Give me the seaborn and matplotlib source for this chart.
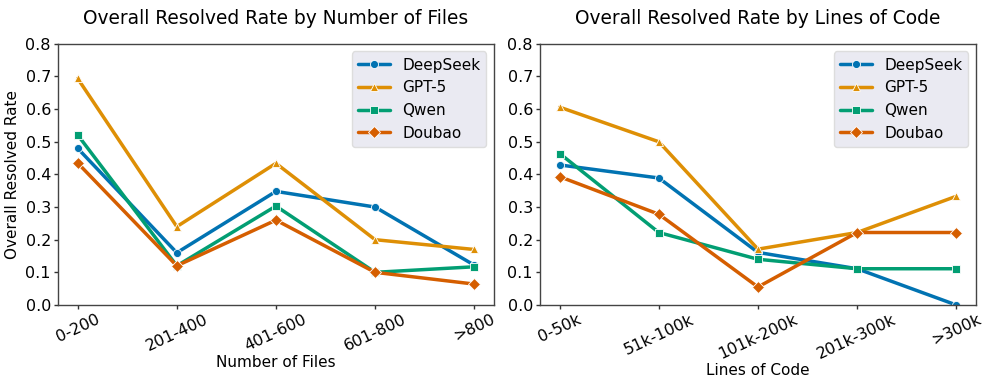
import matplotlib
matplotlib.use("Agg")
import matplotlib.pyplot as plt
import seaborn as sns
import pandas as pd

models = ["DeepSeek", "GPT-5", "Qwen", "Doubao"]

files_cats = ["0-200", "201-400", "401-600", "601-800", ">800"]
files_deepseek = [0.48, 0.16, 0.348, 0.30, 0.122]
files_gpt5 = [0.694, 0.24, 0.434, 0.20, 0.17]
files_qwen = [0.521, 0.12, 0.303, 0.10, 0.117]
files_doubao = [0.435, 0.12, 0.26, 0.10, 0.064]

loc_cats = ["0-50k", "51k-100k", "101k-200k", "201k-300k", ">300k"]
loc_deepseek = [0.429, 0.389, 0.161, 0.111, 0.0]
loc_gpt5 = [0.606, 0.50, 0.171, 0.222, 0.333]
loc_qwen = [0.464, 0.222, 0.14, 0.111, 0.111]
loc_doubao = [0.393, 0.278, 0.055, 0.222, 0.222]


def long_df(cats, series):
    rows = []
    for m, vals in zip(models, series):
        for c, v in zip(cats, vals):
            rows.append({"cat": c, "Model": m, "rate": v})
    return pd.DataFrame(rows)


df_files = long_df(files_cats, [files_deepseek, files_gpt5, files_qwen, files_doubao])
df_loc = long_df(loc_cats, [loc_deepseek, loc_gpt5, loc_qwen, loc_doubao])

sns.set_theme(style="ticks")
plt.rcParams["font.family"] = ["DejaVu Sans"]
plt.rcParams.update({
    "text.color": "black",
    "axes.labelcolor": "black",
    "xtick.color": "#333333",
    "ytick.color": "#333333",
    "xtick.labelcolor": "black",
    "ytick.labelcolor": "black",
})
palette = sns.color_palette("colorblind")[:4]
markers = {"DeepSeek": "o", "GPT-5": "^", "Qwen": "s", "Doubao": "D"}

fig, axes = plt.subplots(1, 2, figsize=(9.97, 3.88), dpi=100)
fig.subplots_adjust(left=0.058, right=0.979, top=0.887, bottom=0.214, wspace=0.105)

configs = [
    (axes[0], df_files, "Overall Resolved Rate by Number of Files", "Number of Files", True),
    (axes[1], df_loc, "Overall Resolved Rate by Lines of Code", "Lines of Code", False),
]

for ax, df, title, xlabel, ylab in configs:
    sns.lineplot(data=df, x="cat", y="rate", hue="Model", style="Model",
                 markers=markers, dashes=False, palette=palette, linewidth=2.5,
                 markersize=5.8, markeredgecolor="white", markeredgewidth=0.6,
                 ax=ax, sort=False)
    ax.set_ylim(0, 0.8)
    ax.set_xlim(-0.2, 4.2)
    ax.set_yticks([0.0, 0.1, 0.2, 0.3, 0.4, 0.5, 0.6, 0.7, 0.8])
    ax.set_title(title, fontsize=13.4, pad=14)
    ax.set_xlabel(xlabel, fontsize=11, labelpad=1)
    ax.set_ylabel("Overall Resolved Rate" if ylab else "", fontsize=11, labelpad=4)
    ax.tick_params(axis="both", labelsize=11.5, length=3, width=1, pad=2)
    for lbl in ax.get_xticklabels():
        lbl.set_rotation(25)
    for sp in ax.spines.values():
        sp.set_visible(True)
        sp.set_color("#444444")
        sp.set_linewidth(1.0)
    leg = ax.legend(loc="upper right", fontsize=11, frameon=True,
                    facecolor="#EAEAF2", edgecolor="#DDDDDD", handlelength=2.1)
    leg.get_frame().set_alpha(1.0)

fig.savefig("out.png", dpi=100)
